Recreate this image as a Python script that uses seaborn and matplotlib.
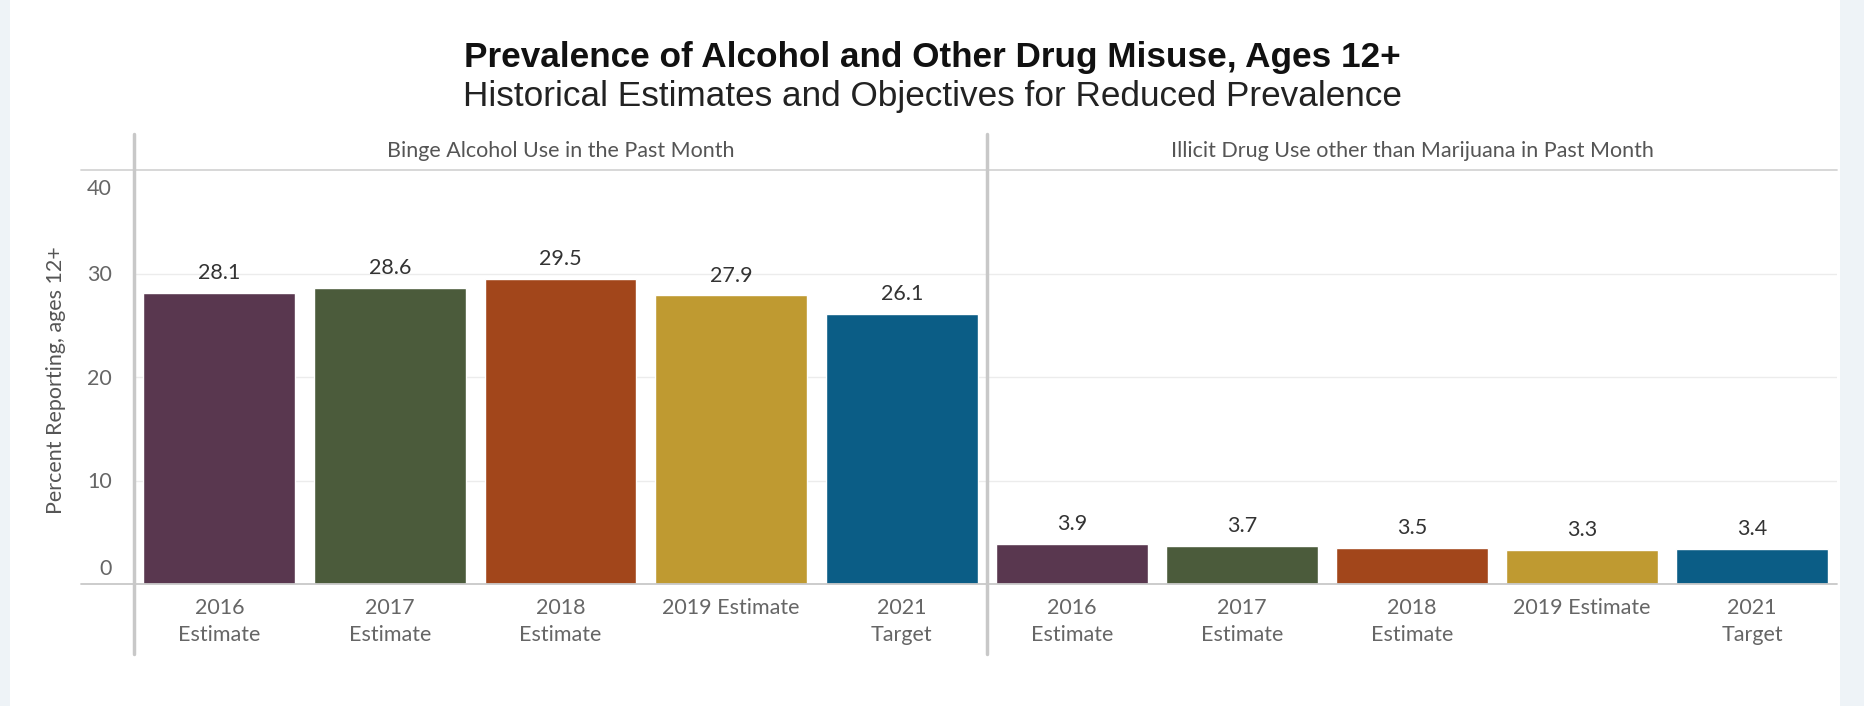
import matplotlib
matplotlib.use("Agg")
import matplotlib.pyplot as plt
import matplotlib.transforms as mtransforms
import seaborn as sns
import pandas as pd
from matplotlib.lines import Line2D
from matplotlib.patches import Rectangle

# data
categories = ["2016\nEstimate", "2017\nEstimate", "2018\nEstimate", "2019 Estimate", "2021\nTarget"]
binge_alcohol = [28.1, 28.6, 29.5, 27.9, 26.1]
illicit_drug = [3.9, 3.7, 3.5, 3.3, 3.4]
panel_titles = ["Binge Alcohol Use in the Past Month",
                "Illicit Drug Use other than Marijuana in Past Month"]
bar_colors = ["#59374f", "#4b5b3b", "#a2461b", "#bf9a31", "#0b5d86"]
y_ticks = [0, 10, 20, 30, 40]

W, H = 1865, 706
sns.set_theme(style="white")
plt.rcParams['font.family'] = ['Lato', 'DejaVu Sans']

fig = plt.figure(figsize=(W / 100, H / 100), dpi=100, facecolor="white")

def fx(px):
    return px / W

def fy(py):
    return 1 - py / H

# side strips
for x0, x1 in [(0, 10), (1840, W)]:
    fig.patches.append(Rectangle((fx(x0), 0), fx(x1 - x0), 1, transform=fig.transFigure,
                                 facecolor="#eef3f7", edgecolor="none", zorder=0))

ax_left, ax_mid, ax_right = 134, 987, 1837
y_top, y_base = 170, 584
axes = [fig.add_axes([fx(ax_left), fy(y_base), fx(ax_mid - ax_left), (y_base - y_top) / H]),
        fig.add_axes([fx(ax_mid), fy(y_base), fx(ax_right - ax_mid), (y_base - y_top) / H])]

for i, (ax, vals) in enumerate(zip(axes, [binge_alcohol, illicit_drug])):
    df = pd.DataFrame({"cat": categories, "val": vals})
    sns.barplot(data=df, x="cat", y="val", hue="cat", palette=bar_colors, legend=False,
                ax=ax, width=0.89, saturation=1, zorder=3)
    ax.set_ylim(0, 40)
    ax.set_xlim(-0.5, 4.5)
    for s in ax.spines.values():
        s.set_visible(False)
    ax.set_facecolor("none")
    for g in [10, 20, 30]:
        ax.axhline(g, color="#ececec", lw=1, zorder=1)
    for cont in ax.containers:
        ax.bar_label(cont, fmt="%.1f", padding=7, fontsize=15.5, color="#333333")
    ax.set_xlabel("")
    ax.set_ylabel("")
    ax.tick_params(axis="x", length=0, pad=10, labelsize=15.5, labelcolor="#666666")
    for lab in ax.get_xticklabels():
        lab.set_linespacing(1.45)
    ax.set_yticks(y_ticks)
    if i == 0:
        ax.tick_params(axis="y", length=0, pad=16, labelsize=15.5, labelcolor="#666666")
        labs = ax.get_yticklabels()
        labs[0].set_transform(labs[0].get_transform() + mtransforms.ScaledTranslation(0, 0.17, fig.dpi_scale_trans))
        labs[-1].set_transform(labs[-1].get_transform() + mtransforms.ScaledTranslation(0, -0.17, fig.dpi_scale_trans))
    else:
        ax.set_yticklabels([])
        ax.tick_params(axis="y", length=0)
    ax.text(0.5, 1.045, panel_titles[i], transform=ax.transAxes, ha="center", va="center",
            fontsize=15.5, color="#555555")

# frame lines
line_kw = dict(transform=fig.transFigure, zorder=5)
fig.lines.append(Line2D([fx(81), fx(ax_right)], [fy(y_top), fy(y_top)], color="#d4d4d4", lw=1.3, **line_kw))
fig.lines.append(Line2D([fx(81), fx(ax_right)], [fy(y_base), fy(y_base)], color="#c8c8c8", lw=1.3, **line_kw))
for xv in [ax_left, ax_mid]:
    fig.lines.append(Line2D([fx(xv), fx(xv)], [fy(134), fy(654)], color="#c8c8c8", lw=2.5, **line_kw))

fig.text(0.5, fy(57), "Prevalence of Alcohol and Other Drug Misuse, Ages 12+", ha="center", va="center",
         fontsize=25.3, fontweight="bold", family=["Liberation Sans", "DejaVu Sans"], color="#111111")
fig.text(0.5, fy(96.5), "Historical Estimates and Objectives for Reduced Prevalence", ha="center", va="center",
         fontsize=25.3, family=["Liberation Sans", "DejaVu Sans"], color="#222222")
fig.text(fx(56), fy(380), "Percent Reporting, ages 12+", rotation=90, ha="center", va="center",
         fontsize=15.5, color="#555555")

fig.savefig("out.png", dpi=100, facecolor="white")
